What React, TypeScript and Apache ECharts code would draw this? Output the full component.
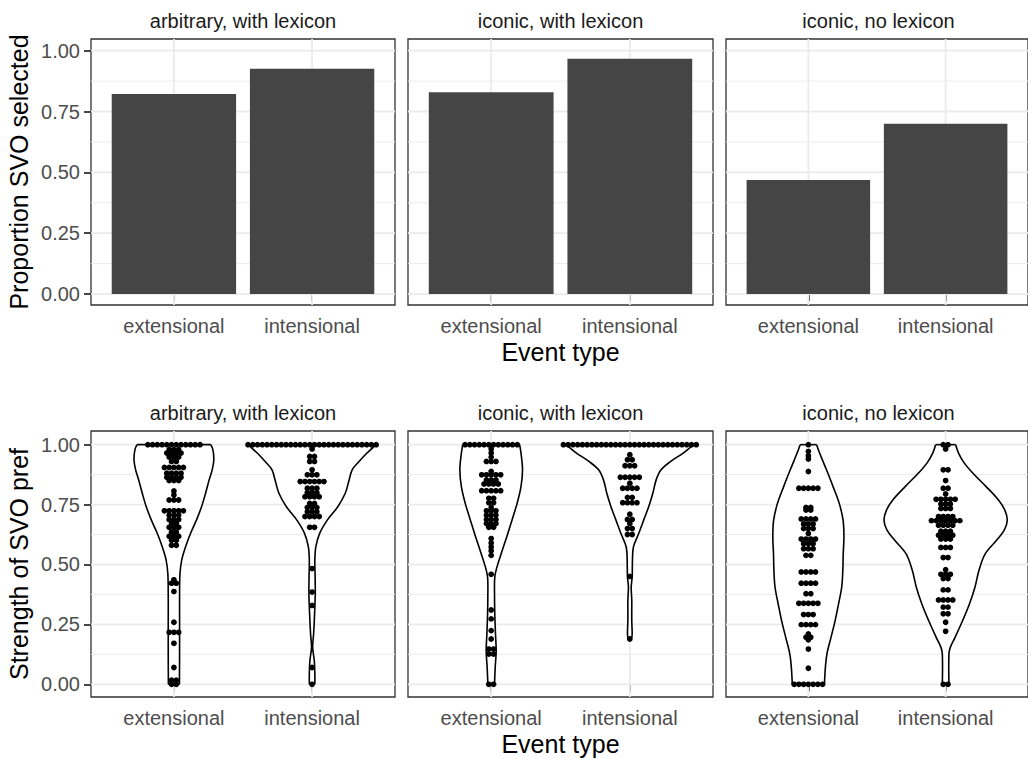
import React, { useEffect, useRef } from 'react';
import * as echarts from 'echarts';

// ---------- data ----------
const CONDITIONS = ['arbitrary, with lexicon', 'iconic, with lexicon', 'iconic, no lexicon'];
const EVENT_TYPES = ['extensional', 'intensional'];
const Y_TICKS = [0, 0.25, 0.5, 0.75, 1];
const Y_MINOR = [0.125, 0.375, 0.625, 0.875];

// proportion SVO selected: [extensional, intensional]
const PROP_ARBITRARY_LEX = [0.822, 0.926];
const PROP_ICONIC_LEX = [0.829, 0.967];
const PROP_ICONIC_NOLEX = [0.469, 0.7];

// violin outlines: [strength, half width in category units]
const VIOLIN_ARB_EXT = [[0, 0.04], [0.126, 0.041], [0.266, 0.041], [0.378, 0.041], [0.462, 0.044], [0.517, 0.056], [0.573, 0.084], [0.629, 0.12], [0.685, 0.163], [0.741, 0.2], [0.797, 0.229], [0.853, 0.255], [0.895, 0.277], [0.937, 0.289], [0.979, 0.282], [1, 0.267]];
const VIOLIN_ARB_INT = [[0, 0.02], [0.042, 0.02], [0.098, 0.016], [0.154, 0.004], [0.21, 0.011], [0.294, 0.018], [0.378, 0.023], [0.448, 0.022], [0.517, 0.02], [0.573, 0.027], [0.629, 0.054], [0.685, 0.11], [0.741, 0.186], [0.797, 0.24], [0.846, 0.265], [0.895, 0.29], [0.93, 0.34], [0.965, 0.397], [0.993, 0.448], [1, 0.453]];
const VIOLIN_ICO_EXT = [[0, 0.024], [0.07, 0.029], [0.14, 0.036], [0.21, 0.031], [0.294, 0.026], [0.378, 0.024], [0.448, 0.026], [0.49, 0.042], [0.545, 0.072], [0.615, 0.112], [0.685, 0.15], [0.755, 0.187], [0.825, 0.215], [0.895, 0.226], [0.965, 0.215], [1, 0.205]];
const VIOLIN_ICO_INT = [[0.19, 0.012], [0.21, 0.017], [0.266, 0.014], [0.35, 0.014], [0.406, 0.01], [0.448, 0.017], [0.517, 0.019], [0.573, 0.026], [0.629, 0.064], [0.685, 0.1], [0.741, 0.136], [0.797, 0.166], [0.853, 0.19], [0.895, 0.225], [0.93, 0.295], [0.965, 0.385], [0.993, 0.445], [1, 0.455]];
const VIOLIN_NOLEX_EXT = [[0, 0.117], [0.07, 0.124], [0.126, 0.135], [0.196, 0.165], [0.266, 0.195], [0.336, 0.22], [0.406, 0.243], [0.476, 0.251], [0.545, 0.254], [0.615, 0.259], [0.685, 0.253], [0.755, 0.225], [0.825, 0.18], [0.895, 0.132], [0.965, 0.082], [1, 0.06]];
const VIOLIN_NOLEX_INT = [[0, 0.024], [0.126, 0.024], [0.154, 0.034], [0.196, 0.069], [0.266, 0.124], [0.336, 0.174], [0.406, 0.214], [0.476, 0.243], [0.545, 0.289], [0.601, 0.371], [0.643, 0.427], [0.685, 0.449], [0.727, 0.431], [0.769, 0.385], [0.825, 0.295], [0.881, 0.199], [0.923, 0.136], [0.965, 0.094], [1, 0.073]];

// dot stacks: [strength, number of participants]
const DOTS_ARB_EXT = [[1, 12], [0.979, 3], [0.965, 4], [0.948, 3], [0.93, 2], [0.905, 5], [0.881, 4], [0.864, 4], [0.85, 3], [0.807, 1], [0.79, 1], [0.769, 3], [0.724, 5], [0.706, 3], [0.688, 3], [0.671, 2], [0.655, 3], [0.636, 2], [0.618, 3], [0.601, 2], [0.58, 2], [0.436, 1], [0.422, 2], [0.387, 1], [0.259, 1], [0.217, 3], [0.171, 1], [0.07, 1], [0.017, 2], [0, 2]];
const DOTS_ARB_INT = [[1, 28], [0.982, 1], [0.951, 2], [0.93, 2], [0.895, 1], [0.874, 3], [0.846, 6], [0.818, 3], [0.8, 3], [0.783, 4], [0.755, 2], [0.738, 3], [0.72, 3], [0.7, 4], [0.655, 2], [0.483, 1], [0.385, 1], [0.329, 1], [0.07, 1], [0, 1]];
const DOTS_ICO_EXT = [[1, 12], [0.982, 1], [0.965, 1], [0.948, 1], [0.93, 3], [0.888, 1], [0.874, 5], [0.853, 3], [0.836, 4], [0.808, 5], [0.776, 2], [0.758, 2], [0.738, 1], [0.724, 3], [0.706, 3], [0.688, 3], [0.671, 3], [0.655, 2], [0.608, 1], [0.59, 1], [0.573, 1], [0.557, 1], [0.538, 1], [0.459, 1], [0.31, 1], [0.273, 1], [0.224, 1], [0.189, 1], [0.147, 2], [0.126, 2], [0, 2]];
const DOTS_ICO_INT = [[1, 29], [0.958, 1], [0.937, 2], [0.912, 3], [0.864, 5], [0.839, 1], [0.818, 4], [0.78, 2], [0.758, 4], [0.71, 1], [0.688, 2], [0.671, 1], [0.65, 2], [0.625, 2], [0.45, 1], [0.189, 1]];
const DOTS_NOLEX_EXT = [[1, 1], [0.972, 1], [0.954, 1], [0.94, 1], [0.888, 1], [0.818, 5], [0.738, 2], [0.727, 2], [0.69, 4], [0.669, 3], [0.65, 3], [0.629, 1], [0.606, 4], [0.587, 3], [0.566, 3], [0.538, 2], [0.469, 4], [0.422, 4], [0.378, 2], [0.338, 5], [0.291, 3], [0.249, 4], [0.21, 1], [0.196, 2], [0.186, 1], [0.147, 1], [0.067, 1], [0, 7]];
const DOTS_NOLEX_INT = [[1, 2], [0.982, 1], [0.895, 2], [0.85, 1], [0.818, 2], [0.794, 1], [0.772, 5], [0.752, 3], [0.734, 3], [0.7, 4], [0.683, 7], [0.664, 4], [0.639, 3], [0.622, 4], [0.606, 3], [0.571, 3], [0.529, 2], [0.478, 1], [0.459, 3], [0.441, 2], [0.394, 2], [0.352, 4], [0.322, 2], [0.294, 2], [0.259, 1], [0.221, 1], [0, 2]];

const PROPORTIONS = [PROP_ARBITRARY_LEX, PROP_ICONIC_LEX, PROP_ICONIC_NOLEX];
const VIOLINS = [[VIOLIN_ARB_EXT, VIOLIN_ARB_INT], [VIOLIN_ICO_EXT, VIOLIN_ICO_INT], [VIOLIN_NOLEX_EXT, VIOLIN_NOLEX_INT]];
const DOTS = [[DOTS_ARB_EXT, DOTS_ARB_INT], [DOTS_ICO_EXT, DOTS_ICO_INT], [DOTS_NOLEX_EXT, DOTS_NOLEX_INT]];

// ---------- layout / style ----------
const FONT = "'Liberation Sans', Arial, Helvetica, sans-serif";
const PANEL_LEFT = [91, 408, 726];
const PANEL_WIDTH = [304, 305, 306];
const ROW_TOP = [39, 431];
const PANEL_HEIGHT = 266;
const Y_RANGE = [[-0.045, 1.048], [-0.053, 1.057]];
const BAR_HALF = 0.45;
const BIN_WIDTH = 0.0198;
const GRID_COLOR = '#ebebeb';

function buildOption() {
  const grid: any[] = [];
  const xAxis: any[] = [];
  const yAxis: any[] = [];
  const series: any[] = [];
  const graphic: any[] = [];

  for (let row = 0; row < 2; row++) {
    for (let col = 0; col < 3; col++) {
      const idx = row * 3 + col;
      grid.push({
        left: PANEL_LEFT[col], top: ROW_TOP[row], width: PANEL_WIDTH[col], height: PANEL_HEIGHT,
        show: true, borderColor: '#333333', borderWidth: 1.3, backgroundColor: 'transparent',
      });
      xAxis.push({
        type: 'value', gridIndex: idx, min: 0.4, max: 2.6,
        axisLine: { show: false }, splitLine: { show: false },
        axisTick: { show: true, customValues: [1, 2], length: 7, lineStyle: { color: '#333333', width: 1.8 } },
        axisLabel: {
          show: true, customValues: [1, 2], margin: 11,
          formatter: (v: number) => EVENT_TYPES[Math.round(v) - 1] ?? '',
          fontSize: 20, color: '#4d4d4d', fontFamily: FONT,
        },
      });
      yAxis.push({
        type: 'value', gridIndex: idx, min: Y_RANGE[row][0], max: Y_RANGE[row][1],
        axisLine: { show: false }, splitLine: { show: false },
        axisTick: { show: col === 0, customValues: Y_TICKS, length: 7, lineStyle: { color: '#333333', width: 1.8 } },
        axisLabel: {
          show: col === 0, customValues: Y_TICKS, margin: 11,
          formatter: (v: number) => v.toFixed(2),
          fontSize: 20, color: '#4d4d4d', fontFamily: FONT,
        },
      });

      // grid lines
      series.push({
        type: 'custom', xAxisIndex: idx, yAxisIndex: idx, z: 1, silent: true,
        data: [
          ...Y_MINOR.map((v) => [1, v, 0]),
          ...Y_TICKS.map((v) => [1, v, 1]),
          [1, 0.5, 2], [2, 0.5, 2],
        ],
        renderItem: (params: any, api: any) => {
          const cs = params.coordSys;
          const kind = api.value(2);
          const p = api.coord([api.value(0), api.value(1)]);
          if (kind === 2) {
            return { type: 'line', shape: { x1: p[0], y1: cs.y, x2: p[0], y2: cs.y + cs.height }, style: { stroke: GRID_COLOR, lineWidth: 1.8 } };
          }
          return { type: 'line', shape: { x1: cs.x, y1: p[1], x2: cs.x + cs.width, y2: p[1] }, style: { stroke: GRID_COLOR, lineWidth: kind === 1 ? 1.8 : 1 } };
        },
      });

      if (row === 0) {
        series.push({
          type: 'custom', xAxisIndex: idx, yAxisIndex: idx, z: 2,
          data: PROPORTIONS[col].map((v, i) => [i + 1, v]),
          renderItem: (params: any, api: any) => {
            const x = api.value(0);
            const v = api.value(1);
            const a = api.coord([x - BAR_HALF, v]);
            const b = api.coord([x + BAR_HALF, 0]);
            return { type: 'rect', shape: { x: a[0], y: a[1], width: b[0] - a[0], height: b[1] - a[1] }, style: { fill: '#454545' } };
          },
        });
      } else {
        const violins = VIOLINS[col];
        series.push({
          type: 'custom', xAxisIndex: idx, yAxisIndex: idx, z: 2,
          data: [[1, 0.5, 0], [2, 0.5, 1]],
          renderItem: (params: any, api: any) => {
            const cat = api.value(0);
            const prof = violins[api.value(2)];
            const right = prof.map(([v, hw]) => api.coord([cat + hw, v]));
            const left = prof.map(([v, hw]) => api.coord([cat - hw, v]));
            const stroke = { stroke: '#000000', lineWidth: 1.6, fill: 'none' };
            const n = prof.length - 1;
            return {
              type: 'group',
              children: [
                { type: 'polygon', shape: { points: [...right, ...left.slice().reverse()] }, style: { fill: '#ffffff' } },
                { type: 'polyline', shape: { points: right, smooth: 0.35 }, style: stroke },
                { type: 'polyline', shape: { points: left, smooth: 0.35 }, style: stroke },
                { type: 'line', shape: { x1: left[n][0], y1: left[n][1], x2: right[n][0], y2: right[n][1] }, style: stroke },
                { type: 'line', shape: { x1: left[0][0], y1: left[0][1], x2: right[0][0], y2: right[0][1] }, style: stroke },
              ],
            };
          },
        });
        const dotData: number[][] = [];
        DOTS[col].forEach((arr, ci) => arr.forEach(([v, n]) => dotData.push([ci + 1, v, n])));
        series.push({
          type: 'custom', xAxisIndex: idx, yAxisIndex: idx, z: 3,
          data: dotData,
          renderItem: (params: any, api: any) => {
            const c = api.coord([api.value(0), api.value(1)]);
            const d = api.size([0, BIN_WIDTH])[1];
            const n = api.value(2);
            const children: any[] = [];
            for (let i = 0; i < n; i++) {
              children.push({ type: 'circle', shape: { cx: c[0] + (i - (n - 1) / 2) * d, cy: c[1], r: d / 2 + 0.5 }, style: { fill: '#000000' } });
            }
            return { type: 'group', children };
          },
        });
      }
    }
  }

  // strip titles, axis titles
  for (let row = 0; row < 2; row++) {
    for (let col = 0; col < 3; col++) {
      graphic.push({
        type: 'text', x: PANEL_LEFT[col] + PANEL_WIDTH[col] / 2 - (col === 2 ? 0.5 : 0), y: ROW_TOP[row] - 18,
        style: { text: CONDITIONS[col], fontSize: 20, fontFamily: FONT, fill: '#1a1a1a', align: 'center', verticalAlign: 'middle' },
      });
    }
    graphic.push({
      type: 'text', x: PANEL_LEFT[1] + PANEL_WIDTH[1] / 2, y: ROW_TOP[row] + PANEL_HEIGHT + 47,
      style: { text: 'Event type', fontSize: 25, fontFamily: FONT, fill: '#000000', align: 'center', verticalAlign: 'middle' },
    });
    graphic.push({
      type: 'text', x: 19, y: ROW_TOP[row] + PANEL_HEIGHT / 2, rotation: Math.PI / 2,
      style: { text: row === 0 ? 'Proportion SVO selected' : 'Strength of SVO pref', fontSize: 25, fontFamily: FONT, fill: '#000000', align: 'center', verticalAlign: 'middle' },
    });
  }

  return { animation: false, backgroundColor: '#ffffff', grid, xAxis, yAxis, series, graphic };
}

export default function App() {
  const ref = useRef<HTMLDivElement>(null);
  useEffect(() => {
    const chart = echarts.init(ref.current!, null, { renderer: 'svg' });
    chart.setOption(buildOption() as any);
    return () => chart.dispose();
  }, []);
  return <div ref={ref} style={{ position: 'fixed', left: 0, top: 0, width: 1028, height: 759, background: '#ffffff' }} />;
}
